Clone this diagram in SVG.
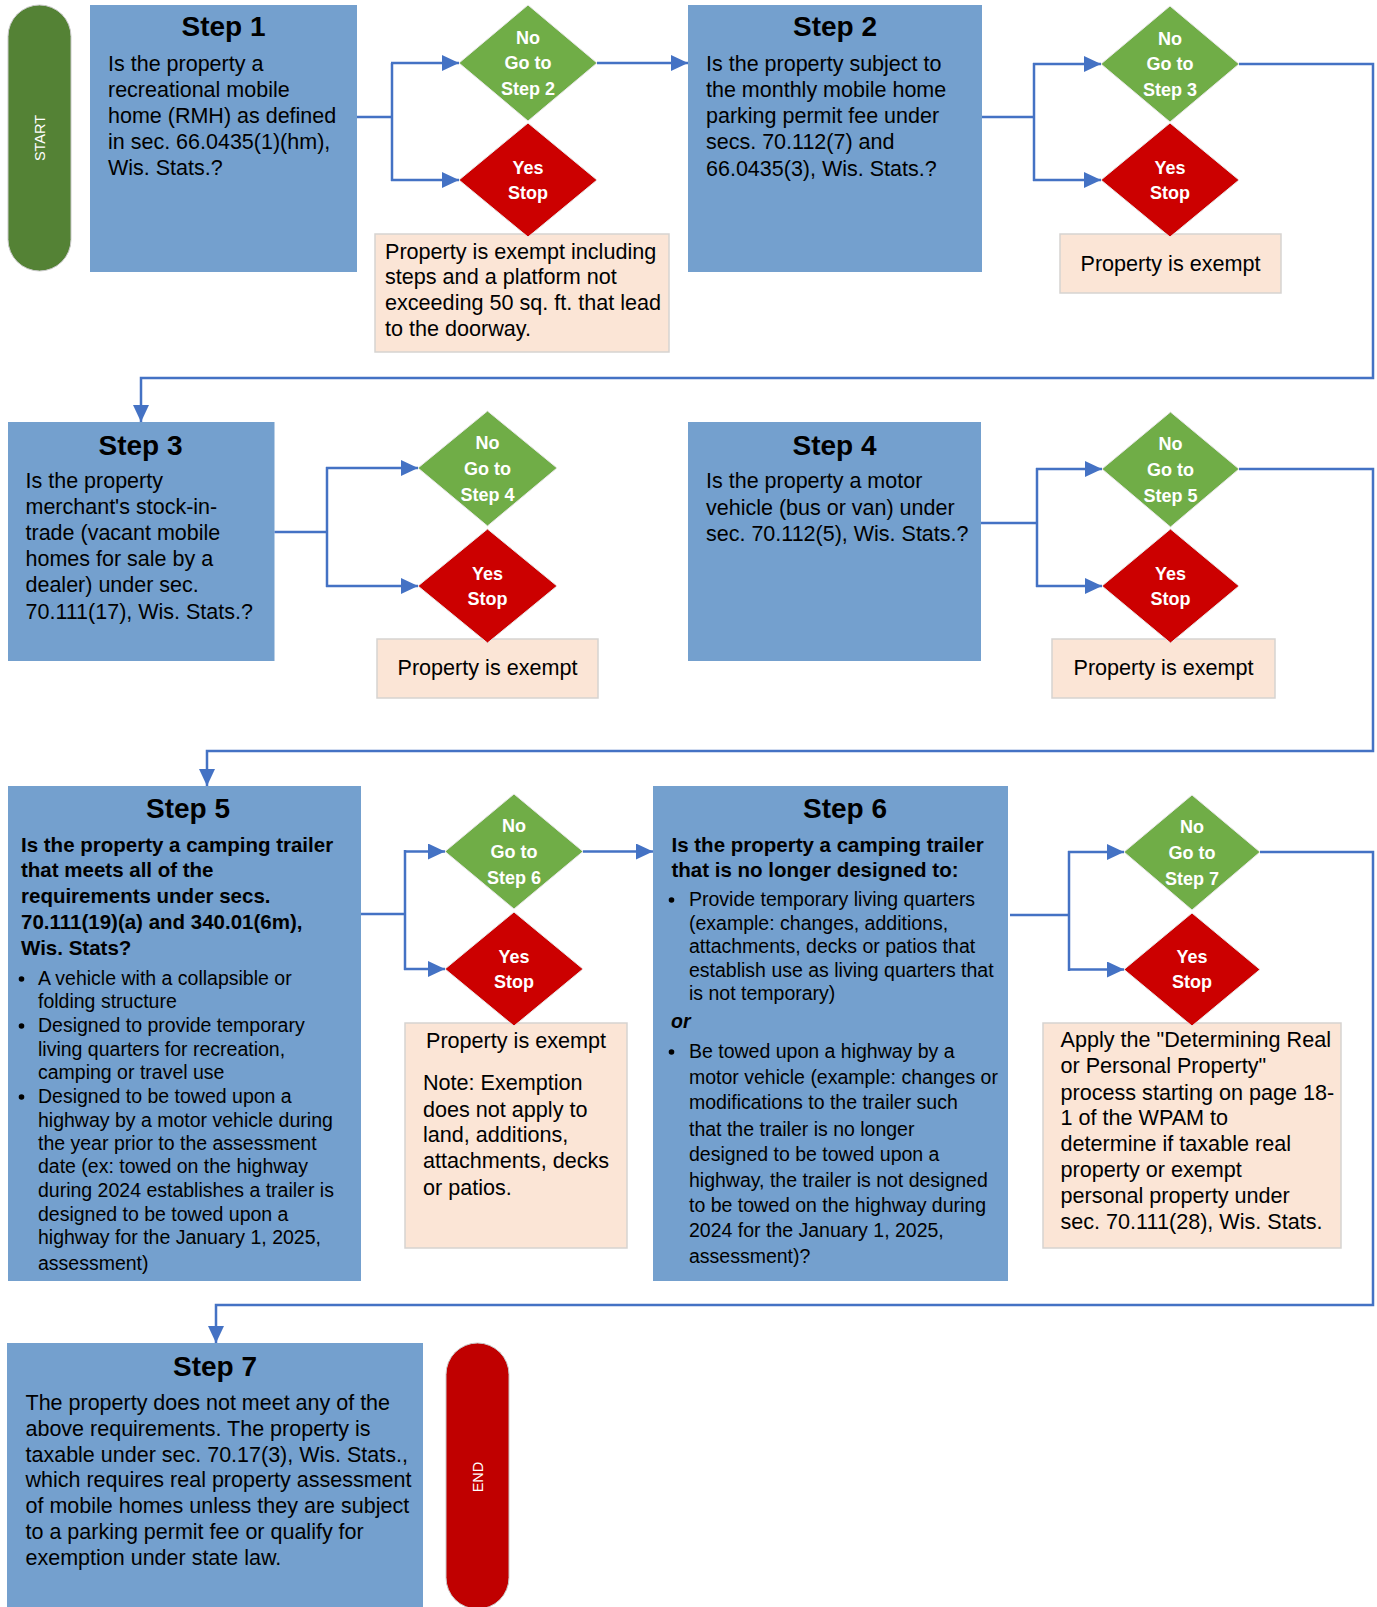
<svg xmlns="http://www.w3.org/2000/svg" width="1377" height="1607" viewBox="0 0 1377 1607">
<style>
text{font-family:"Liberation Sans",Arial,sans-serif;fill:#000}
.box{fill:#74A0CE}
.note{fill:#FBE5D6;stroke:#D6D3D1;stroke-width:1.5}
.yes{fill:#CC0000;stroke:#E8E8E8;stroke-width:1}
.no{fill:#70AD47;stroke:#E8E8E8;stroke-width:1}
.title{font-size:28px;font-weight:bold;text-anchor:middle}
.body{font-size:21.5px}
.bul{font-size:19.5px}
.bq{font-size:20.5px;font-weight:bold}
.dt{font-size:18px;font-weight:bold;fill:#fff;text-anchor:middle}
.nt{font-size:21.6px}
.c{text-anchor:middle}
.pill{font-size:14.5px;fill:#fff;text-anchor:middle}
.dot{fill:#000}
.conn{fill:none;stroke:#4472C4;stroke-width:2.5}
</style>
<defs>
<marker id="ah" markerUnits="userSpaceOnUse" markerWidth="17" markerHeight="16" refX="17" refY="8" orient="auto" viewBox="0 0 17 16">
<path d="M0,0 L17,8 L0,16 z" fill="#4472C4"/>
</marker>
</defs>

<g id="start">
<rect x="8" y="5" width="63" height="266" rx="31.5" fill="#548235" stroke="#C9C9C9" stroke-width="1"/>
<text class="pill" transform="translate(44.5,138) rotate(-90)">START</text>
</g>

<g id="step1">
<rect class="box" x="90" y="5" width="267" height="267"/>
<text class="title" x="223.5" y="36">Step 1</text>
<text class="body" x="108" y="71">Is the property a</text>
<text class="body" x="108" y="97">recreational mobile</text>
<text class="body" x="108" y="123">home (RMH) as defined</text>
<text class="body" x="108" y="149">in sec. 66.0435(1)(hm),</text>
<text class="body" x="108" y="175">Wis. Stats.?</text>
</g>

<g id="note1">
<rect class="note" x="375" y="234" width="294" height="118"/>
<text class="nt" x="385" y="259">Property is exempt including</text>
<text class="nt" x="385" y="284">steps and a platform not</text>
<text class="nt" x="385" y="310">exceeding 50 sq. ft. that lead</text>
<text class="nt" x="385" y="336">to the doorway.</text>
</g>
<g id="no1">
<polygon class="no" points="459,63 528,5 597,63 528,121"/>
<text class="dt" x="528" y="44">No</text>
<text class="dt" x="528" y="69">Go to</text>
<text class="dt" x="528" y="95">Step 2</text>
</g>
<g id="yes1">
<polygon class="yes" points="459,180 528,123 597,180 528,237"/>
<text class="dt" x="528" y="174">Yes</text>
<text class="dt" x="528" y="199">Stop</text>
</g>

<g id="step2">
<rect class="box" x="688" y="5" width="294" height="267"/>
<text class="title" x="835" y="36">Step 2</text>
<text class="body" x="706" y="71">Is the property subject to</text>
<text class="body" x="706" y="97">the monthly mobile home</text>
<text class="body" x="706" y="123">parking permit fee under</text>
<text class="body" x="706" y="149">secs. 70.112(7) and</text>
<text class="body" x="706" y="176">66.0435(3), Wis. Stats.?</text>
</g>
<g id="note2">
<rect class="note" x="1060" y="234" width="221" height="59"/>
<text class="nt c" x="1170.5" y="271">Property is exempt</text>
</g>
<g id="no2">
<polygon class="no" points="1101,64 1170,6 1239,64 1170,122"/>
<text class="dt" x="1170" y="45">No</text>
<text class="dt" x="1170" y="70">Go to</text>
<text class="dt" x="1170" y="96">Step 3</text>
</g>
<g id="yes2">
<polygon class="yes" points="1101,180 1170,123 1239,180 1170,237"/>
<text class="dt" x="1170" y="174">Yes</text>
<text class="dt" x="1170" y="199">Stop</text>
</g>

<g id="step3">
<rect class="box" x="8" y="422" width="266.5" height="239"/>
<text class="title" x="140.5" y="455">Step 3</text>
<text class="body" x="25.5" y="488">Is the property</text>
<text class="body" x="25.5" y="514">merchant's stock-in-</text>
<text class="body" x="25.5" y="540">trade (vacant mobile</text>
<text class="body" x="25.5" y="566">homes for sale by a</text>
<text class="body" x="25.5" y="592">dealer) under sec.</text>
<text class="body" x="25.5" y="619">70.111(17), Wis. Stats.?</text>
</g>
<g id="note3">
<rect class="note" x="377" y="639" width="221" height="59"/>
<text class="nt c" x="487.5" y="675">Property is exempt</text>
</g>
<g id="no3">
<polygon class="no" points="418,468 487.5,411 557,468 487.5,526"/>
<text class="dt" x="487.5" y="449">No</text>
<text class="dt" x="487.5" y="475">Go to</text>
<text class="dt" x="487.5" y="501">Step 4</text>
</g>
<g id="yes3">
<polygon class="yes" points="418,586 487.5,529 557,586 487.5,643"/>
<text class="dt" x="487.5" y="580">Yes</text>
<text class="dt" x="487.5" y="605">Stop</text>
</g>

<g id="step4">
<rect class="box" x="688" y="422" width="293" height="239"/>
<text class="title" x="834.5" y="455">Step 4</text>
<text class="body" x="706" y="488">Is the property a motor</text>
<text class="body" x="706" y="514.5">vehicle (bus or van) under</text>
<text class="body" x="706" y="541">sec. 70.112(5), Wis. Stats.?</text>
</g>
<g id="note4">
<rect class="note" x="1052" y="639" width="223" height="59"/>
<text class="nt c" x="1163.5" y="675">Property is exempt</text>
</g>
<g id="no4">
<polygon class="no" points="1102,469 1170.5,412 1239,469 1170.5,527"/>
<text class="dt" x="1170.5" y="450">No</text>
<text class="dt" x="1170.5" y="476">Go to</text>
<text class="dt" x="1170.5" y="502">Step 5</text>
</g>
<g id="yes4">
<polygon class="yes" points="1102,586 1170.5,529 1239,586 1170.5,643"/>
<text class="dt" x="1170.5" y="580">Yes</text>
<text class="dt" x="1170.5" y="605">Stop</text>
</g>

<g id="step5">
<rect class="box" x="8" y="786" width="353" height="495"/>
<text class="title" x="188" y="818">Step 5</text>
<text class="bq" x="21" y="852">Is the property a camping trailer</text>
<text class="bq" x="21" y="877">that meets all of the</text>
<text class="bq" x="21" y="903">requirements under secs.</text>
<text class="bq" x="21" y="929">70.111(19)(a) and 340.01(6m),</text>
<text class="bq" x="21" y="955">Wis. Stats?</text>
<circle class="dot" cx="21.5" cy="979" r="2.8"/>
<text class="bul" x="38" y="985">A vehicle with a collapsible or</text>
<text class="bul" x="38" y="1008">folding structure</text>
<circle class="dot" cx="21.5" cy="1026" r="2.8"/>
<text class="bul" x="38" y="1032">Designed to provide temporary</text>
<text class="bul" x="38" y="1056">living quarters for recreation,</text>
<text class="bul" x="38" y="1079">camping or travel use</text>
<circle class="dot" cx="21.5" cy="1097" r="2.8"/>
<text class="bul" x="38" y="1103">Designed to be towed upon a</text>
<text class="bul" x="38" y="1127">highway by a motor vehicle during</text>
<text class="bul" x="38" y="1150">the year prior to the assessment</text>
<text class="bul" x="38" y="1173">date (ex: towed on the highway</text>
<text class="bul" x="38" y="1197">during 2024 establishes a trailer is</text>
<text class="bul" x="38" y="1221">designed to be towed upon a</text>
<text class="bul" x="38" y="1244">highway for the January 1, 2025,</text>
<text class="bul" x="38" y="1270">assessment)</text>
</g>
<g id="note5">
<rect class="note" x="405" y="1023" width="222" height="225"/>
<text class="nt c" x="516" y="1048">Property is exempt</text>
<text class="nt" x="423" y="1090">Note: Exemption</text>
<text class="nt" x="423" y="1117">does not apply to</text>
<text class="nt" x="423" y="1142">land, additions,</text>
<text class="nt" x="423" y="1168">attachments, decks</text>
<text class="nt" x="423" y="1195">or patios.</text>
</g>
<g id="no5">
<polygon class="no" points="445,851.5 514,794 583,851.5 514,909"/>
<text class="dt" x="514" y="832">No</text>
<text class="dt" x="514" y="858">Go to</text>
<text class="dt" x="514" y="884">Step 6</text>
</g>
<g id="yes5">
<polygon class="yes" points="445,969 514,912 583,969 514,1026"/>
<text class="dt" x="514" y="963">Yes</text>
<text class="dt" x="514" y="988">Stop</text>
</g>

<g id="step6">
<rect class="box" x="653" y="786" width="355" height="495"/>
<text class="title" x="845" y="818">Step 6</text>
<text class="bq" x="671.5" y="852">Is the property a camping trailer</text>
<text class="bq" x="671.5" y="877">that is no longer designed to:</text>
<circle class="dot" cx="671.5" cy="900" r="2.8"/>
<text class="bul" x="689" y="906">Provide temporary living quarters</text>
<text class="bul" x="689" y="930">(example: changes, additions,</text>
<text class="bul" x="689" y="953">attachments, decks or patios that</text>
<text class="bul" x="689" y="977">establish use as living quarters that</text>
<text class="bul" x="689" y="1000">is not temporary)</text>
<text class="bul" x="671" y="1028" font-weight="bold" font-style="italic">or</text>
<circle class="dot" cx="671.5" cy="1052" r="2.8"/>
<text class="bul" x="689" y="1058">Be towed upon a highway by a</text>
<text class="bul" x="689" y="1084">motor vehicle (example: changes or</text>
<text class="bul" x="689" y="1109">modifications to the trailer such</text>
<text class="bul" x="689" y="1136">that the trailer is no longer</text>
<text class="bul" x="689" y="1161">designed to be towed upon a</text>
<text class="bul" x="689" y="1187">highway, the trailer is not designed</text>
<text class="bul" x="689" y="1212">to be towed on the highway during</text>
<text class="bul" x="689" y="1237">2024 for the January 1, 2025,</text>
<text class="bul" x="689" y="1263">assessment)?</text>
</g>
<g id="note6">
<rect class="note" x="1043" y="1023" width="298" height="225"/>
<text class="nt" x="1060.5" y="1047">Apply the "Determining Real</text>
<text class="nt" x="1060.5" y="1073">or Personal Property"</text>
<text class="nt" x="1060.5" y="1100">process starting on page 18-</text>
<text class="nt" x="1060.5" y="1125">1 of the WPAM to</text>
<text class="nt" x="1060.5" y="1151">determine if taxable real</text>
<text class="nt" x="1060.5" y="1177">property or exempt</text>
<text class="nt" x="1060.5" y="1203">personal property under</text>
<text class="nt" x="1060.5" y="1229">sec. 70.111(28), Wis. Stats.</text>
</g>
<g id="no6">
<polygon class="no" points="1124,852 1192,795 1260,852 1192,910"/>
<text class="dt" x="1192" y="833">No</text>
<text class="dt" x="1192" y="859">Go to</text>
<text class="dt" x="1192" y="885">Step 7</text>
</g>
<g id="yes6">
<polygon class="yes" points="1124,969.5 1192,913 1260,969.5 1192,1026"/>
<text class="dt" x="1192" y="963">Yes</text>
<text class="dt" x="1192" y="988">Stop</text>
</g>

<g id="step7">
<rect class="box" x="7" y="1343" width="416" height="270"/>
<text class="title" x="215" y="1376">Step 7</text>
<text class="body" x="25.5" y="1410">The property does not meet any of the</text>
<text class="body" x="25.5" y="1436">above requirements. The property is</text>
<text class="body" x="25.5" y="1462">taxable under sec. 70.17(3), Wis. Stats.,</text>
<text class="body" x="25.5" y="1487">which requires real property assessment</text>
<text class="body" x="25.5" y="1513">of mobile homes unless they are subject</text>
<text class="body" x="25.5" y="1539">to a parking permit fee or qualify for</text>
<text class="body" x="25.5" y="1565">exemption under state law.</text>
</g>

<g id="end">
<rect x="446" y="1343" width="63" height="266" rx="31.5" fill="#C00000" stroke="#C9C9C9" stroke-width="1"/>
<text class="pill" transform="translate(482.5,1477) rotate(-90)">END</text>
</g>

<g id="connectors">
<path class="conn" d="M357,117 H392"/>
<path class="conn" d="M392,63 V181"/>
<path class="conn" d="M391,63 H459" marker-end="url(#ah)"/>
<path class="conn" d="M391,180 H459" marker-end="url(#ah)"/>
<path class="conn" d="M597,63 H688" marker-end="url(#ah)"/>

<path class="conn" d="M982,117 H1034"/>
<path class="conn" d="M1034,63 V181"/>
<path class="conn" d="M1033,64 H1101" marker-end="url(#ah)"/>
<path class="conn" d="M1033,180 H1101" marker-end="url(#ah)"/>
<path class="conn" d="M1239,64 H1373 V378 H141 V422" marker-end="url(#ah)"/>

<path class="conn" d="M274.5,532 H327"/>
<path class="conn" d="M327,467 V587"/>
<path class="conn" d="M326,468 H418" marker-end="url(#ah)"/>
<path class="conn" d="M326,586 H418" marker-end="url(#ah)"/>

<path class="conn" d="M981,523 H1037"/>
<path class="conn" d="M1037,468 V587"/>
<path class="conn" d="M1036,469 H1102" marker-end="url(#ah)"/>
<path class="conn" d="M1036,586 H1102" marker-end="url(#ah)"/>
<path class="conn" d="M1239,469 H1373 V751 H207 V786" marker-end="url(#ah)"/>

<path class="conn" d="M361,914 H405"/>
<path class="conn" d="M405,850 V970"/>
<path class="conn" d="M404,851.5 H445" marker-end="url(#ah)"/>
<path class="conn" d="M404,969 H445" marker-end="url(#ah)"/>
<path class="conn" d="M583,851.5 H653" marker-end="url(#ah)"/>

<path class="conn" d="M1010,915 H1069"/>
<path class="conn" d="M1069,851 V971"/>
<path class="conn" d="M1068,852 H1124" marker-end="url(#ah)"/>
<path class="conn" d="M1068,969.5 H1124" marker-end="url(#ah)"/>
<path class="conn" d="M1260,852 H1373 V1305 H216 V1343" marker-end="url(#ah)"/>
</g>
</svg>
